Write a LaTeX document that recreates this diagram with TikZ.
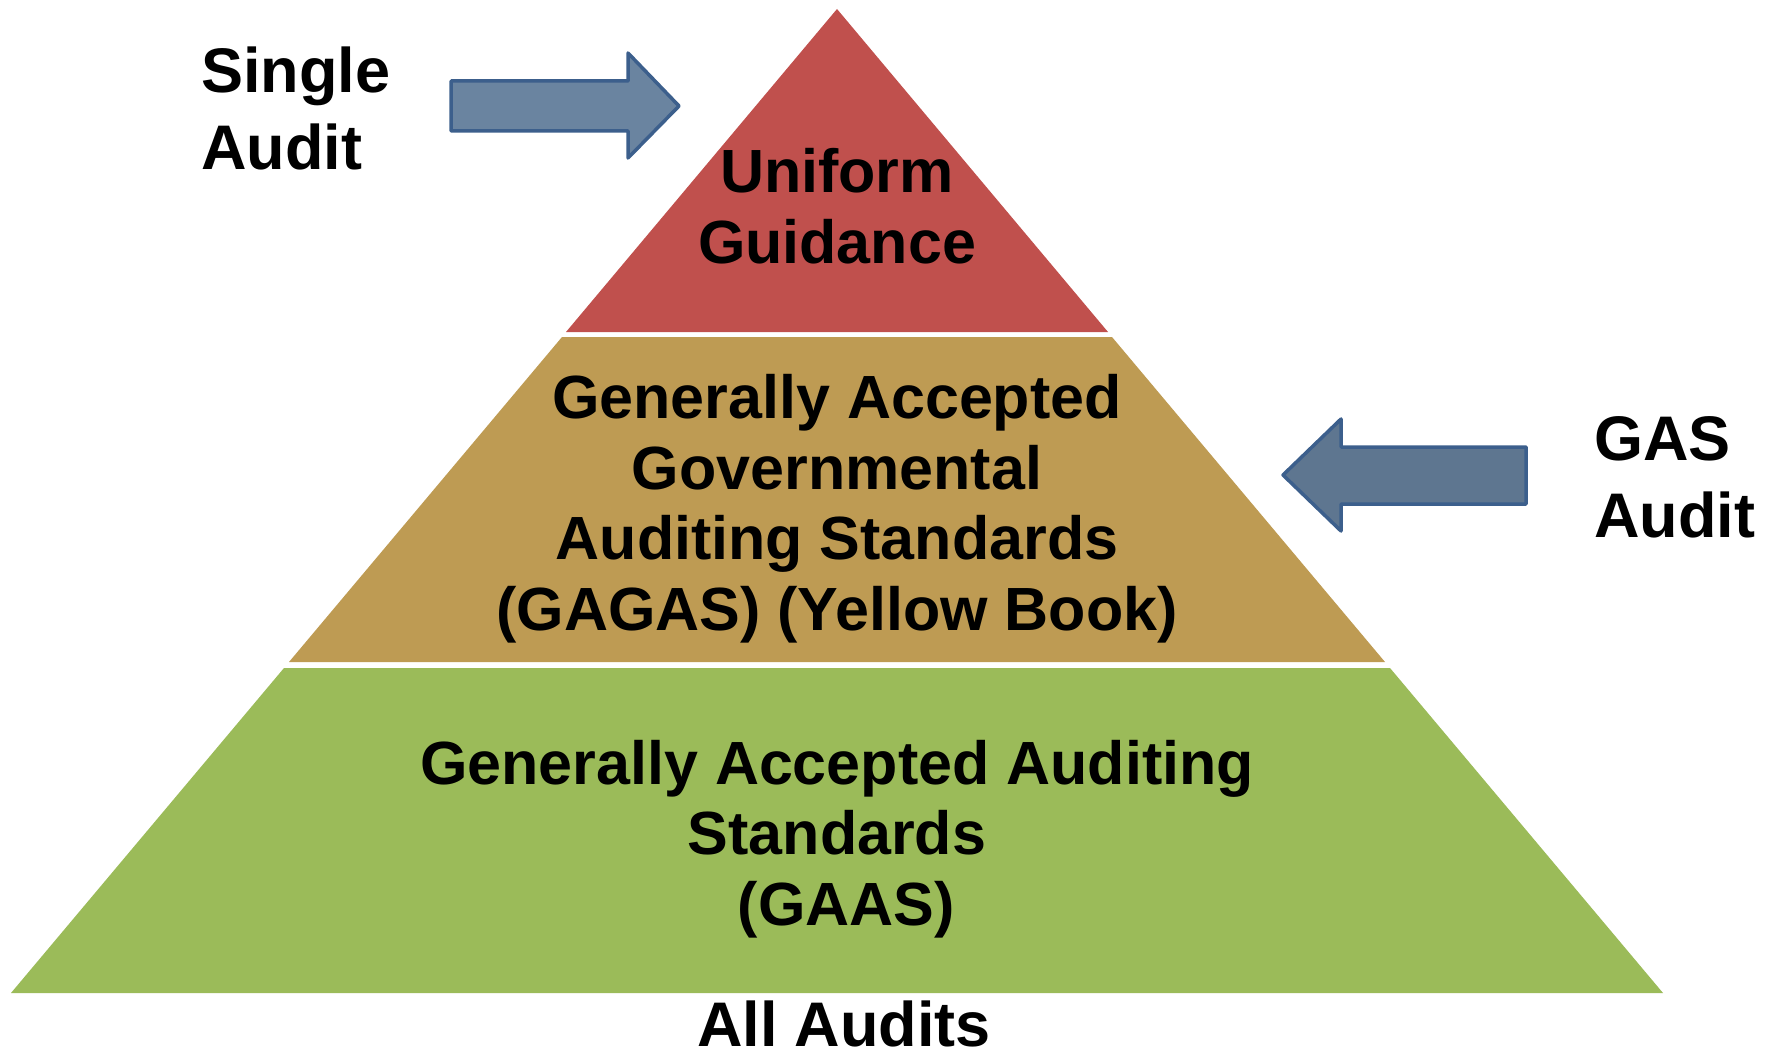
\documentclass[tikz,border=0pt]{standalone}
\usepackage{fontspec}
\setmainfont{Liberation Sans}
\definecolor{ugred}{HTML}{C0504D}
\definecolor{gagtan}{HTML}{BE9B53}
\definecolor{gaasgreen}{HTML}{9BBB59}
\definecolor{arrfillA}{HTML}{6A84A0}
\definecolor{arrfillB}{HTML}{5E7690}
\definecolor{arrline}{HTML}{3C5F8C}
\tikzset{
  layer/.style={draw=none},
  blockarrow/.style={draw=arrline, line width=3.5pt, line join=round},
  bigtxt/.style={font=\fontsize{61}{70.5}\selectfont\bfseries, align=center, inner sep=0pt, anchor=base},
  sidetxt/.style={font=\fontsize{63}{77}\selectfont\bfseries, align=left, inner sep=0pt, anchor=base west},
}
\begin{document}
\begin{tikzpicture}[x=1pt,y=-1pt]
\useasboundingbox (0,0) rectangle (1769,1054);
% pyramid layers
\fill[ugred] (837,9) -- (1108,332) -- (566,332) -- cycle;
\fill[gagtan] (562,337) -- (1112,337) -- (1385,662) -- (289,662) -- cycle;
\fill[gaasgreen] (284,668) -- (1390,668) -- (1663,993) -- (11,993) -- cycle;
% block arrows
\draw[blockarrow, fill=arrfillA] (451,81) -- (628,81) -- (628,53) -- (679,106) -- (628,158) -- (628,131) -- (451,131) -- cycle;
\draw[blockarrow, fill=arrfillB] (1526,447) -- (1341,447) -- (1341,419) -- (1283,475) -- (1341,531) -- (1341,504) -- (1526,504) -- cycle;
% texts (anchor base = baseline of the last line)
\node[sidetxt] (single) at (201,169) {Single\\Audit};
\node[sidetxt] (gas) at (1594,537) {GAS\\Audit};
\node[bigtxt] (ug) at (837,263) {Uniform\\Guidance};
\node[bigtxt] (gagas) at (837,630) {Generally Accepted\\Governmental\\Auditing Standards\\(GAGAS) (Yellow Book)};
\node[bigtxt] (gaas) at (837,925) {Generally Accepted Auditing\\Standards\\\hspace*{0.3em}(GAAS)};
\node[bigtxt, font=\fontsize{63}{70.5}\selectfont\bfseries] (all) at (844,1046) {All Audits};
\end{tikzpicture}
\end{document}
